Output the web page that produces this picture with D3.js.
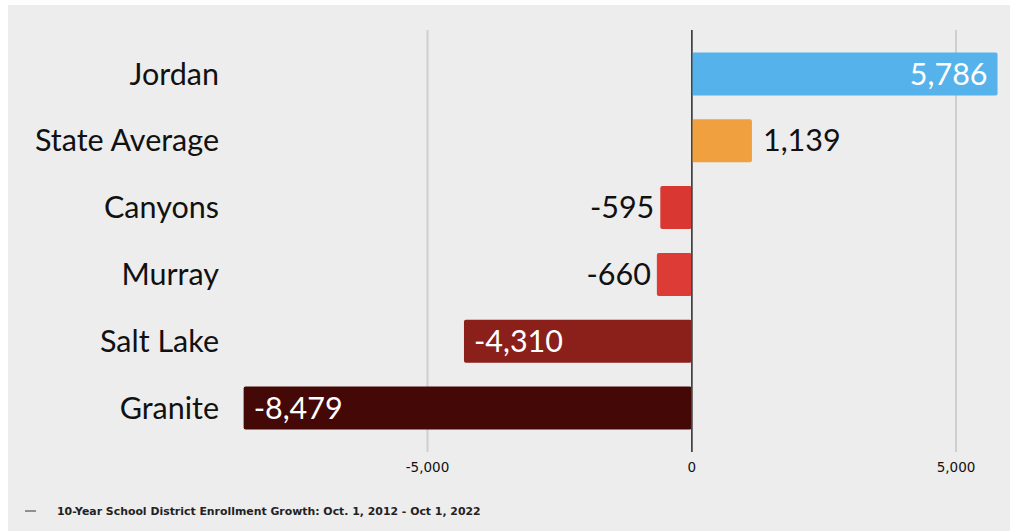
<!DOCTYPE html>
<html>
<head>
<meta charset="utf-8">
<script src="https://cdn.jsdelivr.net/npm/d3@7"></script>
<style>
  body { margin: 0; background: #fff; }
  svg { display: block; }
</style>
</head>
<body>
<svg id="chart" width="1010" height="531"></svg>
<script>
// enrollment growth by district, oct 2012 - oct 2022
const districts = ['Jordan', 'State Average', 'Canyons', 'Murray', 'Salt Lake', 'Granite'];
const growth = [5786, 1139, -595, -660, -4310, -8479];
const barColors = ['#56b2ea', '#f0a03e', '#d93731', '#dc3b36', '#8b1f1a', '#440806'];
const tickVals = [-5000, 0, 5000];
const caption = '10-Year School District Enrollment Growth: Oct. 1, 2012 - Oct 1, 2022';

const svg = d3.select('#chart');
// plain hyphen instead of the unicode minus
const fmt = v => d3.format(',')(v).replace('\u2212', '-');

svg.append('rect')
    .attr('x', 8).attr('y', 5)
    .attr('width', 1002).attr('height', 526)
    .attr('fill', '#ededed');

const x = d3.scaleLinear()
    .domain([-5000, 5000])
    .range([427.5, 956]);

const y = d3.scaleBand()
    .domain(districts)
    .range([30, 452])
    .paddingInner(0.356)
    .paddingOuter(0.337);

// grid lines
svg.append('g')
    .selectAll('line')
    .data(tickVals)
    .join('line')
    .attr('x1', d => x(d)).attr('x2', d => x(d))
    .attr('y1', 30).attr('y2', 452)
    .attr('stroke', d => d === 0 ? '#444' : '#cfcfcf')
    .attr('stroke-width', d => d === 0 ? 1.5 : 2);

const rows = districts.map((name, i) => ({ name: name, value: growth[i], color: barColors[i] }));

svg.append('g')
    .selectAll('rect')
    .data(rows)
    .join('rect')
    .attr('x', d => x(Math.min(0, d.value)))
    .attr('y', d => y(d.name))
    .attr('width', d => Math.abs(x(d.value) - x(0)))
    .attr('height', y.bandwidth())
    .attr('rx', 2)
    .attr('fill', d => d.color);

// redraw zero line on top of bars
svg.append('line')
    .attr('x1', x(0)).attr('x2', x(0))
    .attr('y1', 30).attr('y2', 452)
    .attr('stroke', '#444')
    .attr('stroke-width', 1.5);

// category labels
svg.append('g')
    .selectAll('text')
    .data(rows)
    .join('text')
    .attr('x', 219)
    .attr('y', d => y(d.name) + y.bandwidth() / 2)
    .attr('dy', '0.35em')
    .attr('text-anchor', 'end')
    .attr('font-family', 'Lato, sans-serif')
    .attr('font-size', 30.5)
    .attr('fill', '#111')
    .text(d => d.name);

// value labels: inside for long bars, outside for short ones
function inside(d) { return Math.abs(x(d.value) - x(0)) > 150; }

svg.append('g')
    .selectAll('text')
    .data(rows)
    .join('text')
    .attr('x', d => {
        const end = x(d.value);
        if (inside(d)) return d.value > 0 ? end - 10 : end + 10;
        return d.value > 0 ? end + 11 : end - 6;
    })
    .attr('y', d => y(d.name) + y.bandwidth() / 2)
    .attr('dy', '0.35em')
    .attr('text-anchor', d => (d.value > 0) === inside(d) ? 'end' : 'start')
    .attr('font-family', 'Lato, sans-serif')
    .attr('font-size', 30.5)
    .attr('fill', d => inside(d) ? '#fff' : '#111')
    .text(d => fmt(d.value));

// tick labels
svg.append('g')
    .selectAll('text')
    .data(tickVals)
    .join('text')
    .attr('x', d => x(d))
    .attr('y', 472)
    .attr('text-anchor', 'middle')
    .attr('font-family', 'DejaVu Sans, sans-serif')
    .attr('font-size', 13.5)
    .attr('fill', '#111')
    .text(d => fmt(d));

// caption
svg.append('line')
    .attr('x1', 25).attr('x2', 36)
    .attr('y1', 511).attr('y2', 511)
    .attr('stroke', '#333').attr('stroke-width', 1);

svg.append('text')
    .attr('x', 57).attr('y', 515)
    .attr('font-family', 'DejaVu Sans, sans-serif')
    .attr('font-weight', 'bold')
    .attr('font-size', 10.9)
    .attr('fill', '#222')
    .text(caption);
</script>
</body>
</html>
